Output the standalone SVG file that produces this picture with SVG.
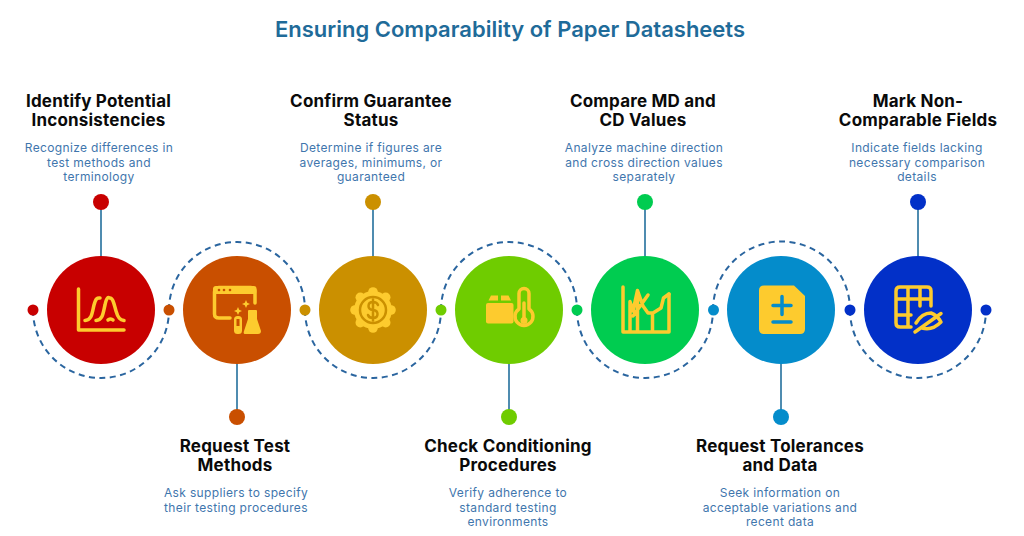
<svg xmlns="http://www.w3.org/2000/svg" width="1024" height="536" viewBox="0 0 1024 536">
<style>
text{text-anchor:middle;font-family:"Inter","Open Sans","Liberation Sans",sans-serif}
.h{font-size:22px;font-weight:600;fill:#1f6b99}
.t{font-size:17px;font-weight:700;fill:#0a0a0a;letter-spacing:.2px}
.d{font-size:12px;font-weight:400;fill:#3f76ad;letter-spacing:.35px}
.dash{fill:none;stroke:#2a659f;stroke-width:2;stroke-dasharray:6 4.5}
.st{stroke:#4f8cb0;stroke-width:2;fill:none}
.i{fill:none;stroke:#fdcb2e;stroke-width:3.500;stroke-linecap:round;stroke-linejoin:round}
.f{fill:#fdcb2e}
</style>
<rect width="1024" height="536" fill="#fff"/>
<text class="h" x="510" y="37">Ensuring Comparability of Paper Datasheets</text>
<g id="connectors">
<path class="dash" d="M33 310A68 68 0 0 0 169 310"/>
<path class="dash" d="M169 310A68 68 0 0 1 305 310"/>
<path class="dash" d="M305 310A68 68 0 0 0 441 310"/>
<path class="dash" d="M441 310A68 68 0 0 1 577 310"/>
<path class="dash" d="M577 310A68 68 0 0 0 713 310"/>
<path class="dash" d="M713 310A68.500 68.500 0 0 1 850 310"/>
<path class="dash" d="M850 310A68 68 0 0 0 986 310"/>
<path class="st" d="M101 202V256M237 364V417M373 202V256M509 364V417M645 202V256M781 364V417M918 202V256"/>
</g>
<g id="dots">
<circle cx="33" cy="310" r="5.500" fill="#c80000"/>
<circle cx="169" cy="310" r="5.500" fill="#c94f00"/>
<circle cx="305" cy="310" r="5.500" fill="#cb9000"/>
<circle cx="441" cy="310" r="5.500" fill="#6fcc00"/>
<circle cx="577" cy="310" r="5.500" fill="#00cc50"/>
<circle cx="713.500" cy="310" r="5.500" fill="#048ccb"/>
<circle cx="850" cy="310" r="5.500" fill="#0230c8"/>
<circle cx="986" cy="310" r="5.500" fill="#0230c8"/>
</g>
<g id="node1">
<circle cx="101" cy="202" r="8" fill="#c80000"/>
<circle cx="101" cy="310" r="54" fill="#c80000"/>
<path class="i" d="M78.500 289V330H124"/>
<path class="i" d="M85 320.500C92 320 92 313 94 305C96 297 98 298 100 298"/>
<path class="i" d="M96 320.500C103 320 103 313 105 305C107 295 109 298 110 298C113 298 114 304 116 311C118 318 120 320 124 320.500"/>
<path class="i" d="M108 320Q111 318 113 320" stroke-width="3"/>
<text class="t" x="98.500" y="107">Identify Potential</text>
<text class="t" x="98.500" y="126">Inconsistencies</text>
<text class="d" x="99" y="152">Recognize differences in</text>
<text class="d" x="99" y="167">test methods and</text>
<text class="d" x="99" y="181">terminology</text>
</g>
<g id="node2">
<circle cx="237" cy="417" r="8" fill="#c94f00"/>
<circle cx="237" cy="310" r="54" fill="#c94f00"/>
<path class="i" d="M230 318H219Q214.500 318 214.500 314V292Q214.500 287.500 219 287.500H251Q255 287.500 255 292V303"/>
<rect x="213" y="286" width="43.500" height="8" rx="3" fill="#fdcb2e"/>
<circle cx="219" cy="290" r="1.300" fill="#c94f00"/><circle cx="224" cy="290" r="1.300" fill="#c94f00"/><circle cx="230" cy="290" r="1.300" fill="#c94f00"/>
<path class="f" d="M246 300l1.200 2.800 2.800 1.200-2.800 1.200-1.200 2.800-1.200-2.800-2.800-1.200 2.800-1.200zM238 307l1.200 2.800 2.800 1.200-2.800 1.200-1.200 2.800-1.200-2.800-2.800-1.200 2.800-1.200z"/>
<rect x="234" y="316" width="8" height="18" rx="3.500" fill="#fdcb2e"/>
<rect x="236.500" y="319" width="3" height="7" fill="#c94f00"/>
<path class="f" d="M249 310H256Q257 310 257 311V319L261 331Q261 334 258 334H245Q243 334 244 331L248 319V311Q248 310 249 310Z"/>
<text class="t" x="235" y="452">Request Test</text>
<text class="t" x="235" y="471">Methods</text>
<text class="d" x="236" y="497">Ask suppliers to specify</text>
<text class="d" x="236" y="512">their testing procedures</text>
</g>
<g id="node3">
<circle cx="373" cy="202" r="8" fill="#cb9000"/>
<circle cx="373" cy="310" r="54" fill="#cb9000"/>
<g class="f">
<circle cx="373" cy="310" r="19"/>
<circle cx="373" cy="292" r="4.800"/><circle cx="373" cy="328" r="4.800"/><circle cx="355" cy="310" r="4.800"/><circle cx="391" cy="310" r="4.800"/>
<circle cx="385.700" cy="297.300" r="4.800"/><circle cx="360.300" cy="297.300" r="4.800"/><circle cx="385.700" cy="322.700" r="4.800"/><circle cx="360.300" cy="322.700" r="4.800"/>
</g>
<circle cx="373" cy="310" r="13" fill="none" stroke="#cb9000" stroke-width="2.500"/>
<path d="M378 305Q377 302 373 302Q368.500 302 368.500 306Q368.500 309.500 373 310Q377.500 310.500 377.500 314Q377.500 318 373 318Q369 318 368 315M373 299.500V320.500" fill="none" stroke="#cb9000" stroke-width="2.500" stroke-linecap="round"/>
<text class="t" x="371" y="107">Confirm Guarantee</text>
<text class="t" x="371" y="126">Status</text>
<text class="d" x="371" y="152">Determine if figures are</text>
<text class="d" x="371" y="167">averages, minimums, or</text>
<text class="d" x="371" y="181">guaranteed</text>
</g>
<g id="node4">
<circle cx="509" cy="417" r="8" fill="#6fcc00"/>
<circle cx="509" cy="310" r="54" fill="#6fcc00"/>
<rect x="486" y="303" width="27.500" height="20.500" rx="2" fill="#fdcb2e"/>
<path class="f" d="M491 295.500H498V300.500H488.500ZM501 295.500H508.500L511 300.500H501Z"/>
<path class="i" d="M519 309V293.500A5 5 0 0 1 529 293.500V309A9 9 0 1 1 519 309Z" stroke-width="2.500"/>
<circle cx="524" cy="320.500" r="3.500" fill="#fdcb2e"/>
<path class="i" d="M524 320V303" stroke-width="2"/>
<text class="t" x="508" y="452">Check Conditioning</text>
<text class="t" x="508" y="471">Procedures</text>
<text class="d" x="508" y="497">Verify adherence to</text>
<text class="d" x="508" y="512">standard testing</text>
<text class="d" x="508" y="526">environments</text>
</g>
<g id="node5">
<circle cx="645" cy="202" r="8" fill="#00cc50"/>
<circle cx="645" cy="310" r="54" fill="#00cc50"/>
<path class="i" d="M623 287V332H669V294"/>
<path class="i" d="M630 331V301.500L633 311L637.500 290.500L643 306L648 313H653L661 308L663.500 298L669 294M637.500 290.500V331M652.500 313V331M633 316L648 295" stroke-width="3"/>
<text class="t" x="643" y="107">Compare MD and</text>
<text class="t" x="643" y="126">CD Values</text>
<text class="d" x="644" y="152">Analyze machine direction</text>
<text class="d" x="644" y="167">and cross direction values</text>
<text class="d" x="644" y="181">separately</text>
</g>
<g id="node6">
<circle cx="781" cy="417" r="8" fill="#048ccb"/>
<circle cx="781" cy="310" r="54" fill="#048ccb"/>
<path class="f" d="M764 285.500H794L805 296V329Q805 334 800 334H764Q759 334 759 329V290.500Q759 285.500 764 285.500Z"/>
<path d="M773 305.500H791M782 296.500V314.500M773 322H791" fill="none" stroke="#048ccb" stroke-width="3.500" stroke-linecap="round"/>
<text class="t" x="780" y="452">Request Tolerances</text>
<text class="t" x="780" y="471">and Data</text>
<text class="d" x="780" y="497">Seek information on</text>
<text class="d" x="780" y="512">acceptable variations and</text>
<text class="d" x="780" y="526">recent data</text>
</g>
<g id="node7">
<circle cx="918" cy="202" r="8" fill="#0230c8"/>
<circle cx="918" cy="310" r="54" fill="#0230c8"/>
<path class="i" d="M911 327H900Q896 327 896 323V291Q896 287 900 287H927Q931 287 931 291V306M896 299H931M896 315H911M908 287V327M920 287V306" stroke-width="3"/>
<path class="i" d="M916 323Q922 313 931 313Q937 315 941 322Q932 331 922 328M915 332L941 313.500" stroke-width="3"/>
<text class="t" x="918" y="107">Mark Non-</text>
<text class="t" x="918" y="126">Comparable Fields</text>
<text class="d" x="917" y="152">Indicate fields lacking</text>
<text class="d" x="917" y="167">necessary comparison</text>
<text class="d" x="917" y="181">details</text>
</g>
</svg>
